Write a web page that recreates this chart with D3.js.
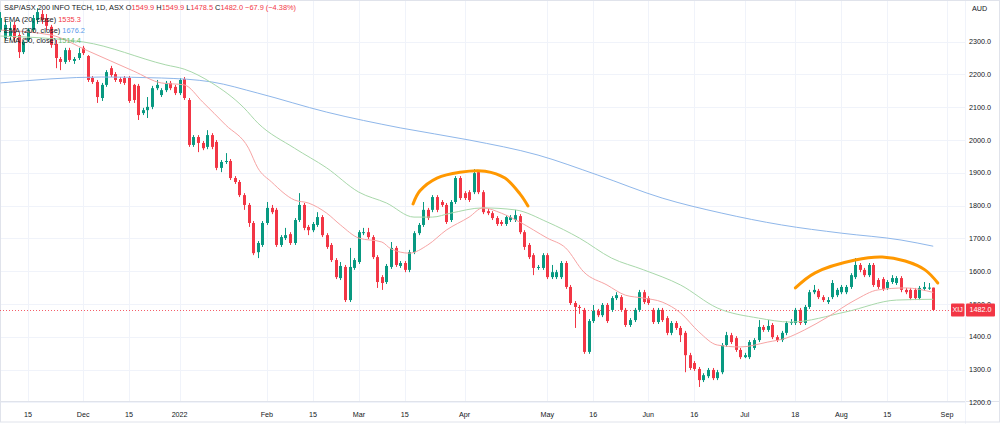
<!DOCTYPE html>
<html>
<head>
<meta charset="utf-8">
<script src="https://cdn.jsdelivr.net/npm/d3@7"></script>
<style>
  body { margin: 0; background: #fff; }
  text { font-family: "Liberation Sans", Arial, sans-serif; }
</style>
</head>
<body>
<div id="chart"></div>
<script>
// bar index of the first candle (0 = 15 Nov 2021, one per trading day)
var firstBar = -6;

var open = [2335,2311,2317,2351,2320,2268,2305,2335,2366,2384,2372,2345,2293,2247,2238,2274,2241,2250,2281,2256,
  2189,2177,2128,2168,2219,2201,2186,2189,2189,2168,2165,2082,2091,2101,2158,2137,2152,2174,2162,2143,
  2186,2122,1985,2009,1991,1979,2015,1994,1915,1933,1936,1884,1872,1832,1802,1747,1658,1680,1747,1793,
  1787,1680,1701,1713,1686,1756,1802,1735,1725,1741,1765,1710,1680,1634,1579,1613,1512,1610,1628,1716,
  1719,1704,1643,1582,1567,1613,1671,1616,1625,1604,1658,1716,1741,1787,1787,1826,1811,1802,1756,1811,
  1884,1838,1841,1841,1902,1841,1783,1777,1762,1750,1744,1756,1756,1768,1719,1680,1649,1610,1610,1649,
  1582,1582,1582,1625,1552,1503,1491,1482,1354,1448,1479,1466,1497,1482,1518,1521,1482,1436,1451,1482,
  1536,1518,1482,1445,1482,1457,1412,1442,1427,1412,1344,1320,1302,1268,1280,1299,1274,1292,1375,1405,
  1396,1360,1338,1338,1366,1390,1430,1421,1436,1399,1390,1412,1442,1442,1482,1442,1491,1536,1540,1521,
  1506,1521,1527,1536,1536,1552,1582,1619,1604,1588,1619,1573,1576,1549,1567,1564,1579,1543,1543,1543,
  1518,1546,1548,1549.9];
var high = [2390,2366,2360,2360,2326,2305,2341,2381,2402,2396,2384,2351,2305,2253,2281,2281,2253,2281,2287,2259,
  2195,2183,2174,2213,2226,2207,2192,2195,2195,2171,2171,2098,2131,2165,2183,2158,2180,2180,2168,2189,
  2192,2128,2015,2015,1997,2030,2021,2000,1939,1960,1942,1890,1878,1838,1808,1753,1692,1753,1811,1802,
  1793,1710,1732,1719,1762,1838,1808,1741,1750,1780,1771,1716,1686,1640,1628,1619,1671,1640,1725,1732,
  1732,1710,1649,1588,1622,1689,1677,1631,1631,1665,1722,1747,1811,1793,1832,1832,1817,1808,1817,1890,
  1890,1844,1847,1911,1908,1847,1790,1783,1768,1756,1771,1771,1787,1774,1725,1686,1655,1619,1655,1655,
  1619,1604,1631,1631,1558,1509,1497,1488,1454,1497,1485,1503,1503,1524,1536,1527,1488,1457,1488,1543,
  1543,1524,1488,1488,1488,1463,1448,1448,1433,1418,1351,1326,1308,1289,1305,1305,1299,1381,1415,1412,
  1402,1366,1351,1390,1396,1451,1436,1451,1442,1405,1418,1448,1454,1488,1488,1497,1543,1558,1546,1527,
  1521,1573,1549,1558,1558,1594,1640,1625,1610,1625,1625,1579,1582,1573,1588,1585,1585,1549,1549,1549,
  1555,1567,1564,1549.9];
var low = [2329,2305,2305,2299,2250,2262,2299,2329,2354,2354,2335,2281,2219,2213,2232,2238,2232,2244,2259,2177,
  2171,2113,2119,2162,2192,2177,2171,2168,2113,2113,2061,2076,2067,2094,2152,2131,2146,2152,2137,2137,
  2122,1979,1979,1963,1969,1972,1972,1908,1902,1927,1878,1866,1826,1787,1735,1649,1640,1674,1741,1774,
  1674,1674,1695,1680,1680,1750,1725,1710,1719,1735,1704,1668,1628,1576,1573,1506,1506,1604,1622,1710,
  1698,1637,1549,1543,1561,1607,1613,1610,1597,1597,1652,1710,1735,1756,1780,1780,1796,1744,1750,1805,
  1817,1817,1811,1835,1835,1774,1771,1756,1738,1738,1738,1750,1750,1713,1665,1637,1588,1604,1604,1576,
  1576,1576,1576,1546,1497,1427,1470,1348,1348,1442,1460,1460,1442,1476,1512,1476,1430,1430,1445,1476,
  1500,1497,1439,1439,1445,1405,1405,1421,1384,1292,1299,1296,1247,1262,1274,1268,1268,1286,1369,1378,
  1354,1332,1335,1332,1360,1384,1415,1415,1393,1384,1384,1405,1436,1436,1436,1436,1485,1530,1515,1506,
  1500,1515,1521,1530,1530,1546,1576,1597,1582,1582,1552,1546,1540,1543,1561,1558,1536,1530,1512,1512,
  1512,1540,1543,1478.5];
var close = [2372,2351,2341,2311,2268,2299,2335,2372,2390,2366,2348,2290,2250,2238,2274,2244,2247,2265,2265,2183,
  2177,2131,2168,2207,2198,2183,2177,2174,2119,2122,2076,2091,2101,2158,2168,2152,2174,2158,2143,2183,
  2128,1985,2009,1991,1975,2015,1979,1915,1933,1936,1884,1872,1832,1802,1747,1655,1686,1747,1793,1780,
  1680,1704,1710,1686,1756,1802,1732,1725,1744,1765,1710,1674,1634,1582,1616,1512,1613,1634,1719,1719,
  1704,1643,1567,1564,1616,1671,1619,1625,1604,1658,1716,1741,1787,1762,1826,1787,1802,1750,1811,1884,
  1823,1823,1817,1899,1841,1780,1777,1762,1744,1744,1765,1765,1771,1719,1674,1643,1610,1613,1649,1582,
  1597,1597,1625,1552,1503,1491,1488,1354,1448,1479,1466,1497,1448,1518,1527,1482,1436,1451,1482,1536,
  1506,1503,1445,1482,1451,1412,1442,1427,1405,1344,1305,1302,1268,1283,1299,1274,1292,1375,1405,1384,
  1360,1338,1344,1384,1390,1430,1421,1433,1399,1390,1412,1442,1445,1482,1442,1491,1536,1543,1521,1512,
  1512,1564,1543,1552,1552,1588,1619,1604,1588,1619,1558,1552,1546,1567,1579,1579,1543,1536,1518,1518,
  1549,1552,1549.9,1482.0];

// moving averages at a few bar indices
var ema20Idx = [-6, 5, 13, 23, 29, 34, 38, 43, 48, 50, 53, 58, 61, 65, 68, 72, 77, 79, 83, 87, 91, 96, 99, 103, 107,
  113, 117, 121, 126, 130, 134, 138, 142, 146, 150, 155, 161, 165, 169, 174, 180, 185, 191, 197];
var ema20Val = [2335, 2320, 2272, 2210, 2174, 2168, 2116, 2046, 1975, 1915, 1872, 1817, 1808, 1777, 1741, 1701, 1689,
  1668, 1655, 1680, 1725, 1765, 1793, 1777, 1750, 1701, 1671, 1597, 1558, 1527, 1518, 1506, 1473, 1415, 1375,
  1369, 1384, 1396, 1421, 1460, 1512, 1543, 1549, 1535.3];
var ema50Idx = [-6, 12, 30, 34, 40, 47, 50, 58, 65, 72, 78, 84, 88, 92, 99, 106, 113, 120, 127, 134, 142, 150, 159,
  166, 178, 189, 197];
var ema50Val = [2317, 2299, 2229, 2216, 2174, 2098, 2052, 1975, 1915, 1841, 1808, 1765, 1765, 1777, 1793, 1787, 1750,
  1701, 1640, 1604, 1558, 1488, 1457, 1445, 1476, 1512, 1514.4];
var ema200Idx = [-6, 16, 29, 40, 50, 65, 81, 96, 111, 124, 138, 151, 164, 177, 190, 197];
var ema200Val = [2174, 2192, 2189, 2177, 2143, 2085, 2037, 2000, 1954, 1893, 1823, 1777, 1741, 1716, 1695, 1676.2];

// hand drawn orange arcs (bar index, price)
var arc1Idx = [83.8, 85.3, 89.0, 94.0, 99.5, 103.8, 107.1, 108.8];
var arc1Val = [1805, 1845, 1884, 1902, 1905, 1884, 1835, 1799];
var arc2Idx = [167.0, 171.3, 180.0, 185.9, 190.9, 195.2, 198.0];
var arc2Val = [1549, 1595, 1634, 1643, 1631, 1604, 1564];

var tickIdx = [0, 12, 22, 33, 52, 62, 72, 82, 95, 113, 123, 135, 145, 156, 167, 177, 187, 200];
var tickLabels = ["15", "Dec", "15", "2022", "Feb", "15", "Mar", "15", "Apr", "May", "16", "Jun", "16", "Jul", "18", "Aug", "15", "Sep"];
var priceTicks = d3.range(1200, 2301, 100);

var lastClose = 1482.0;
var legendTitle = "S&P/ASX 200 INFO TECH, 1D, ASX";

var W = 1000, H = 424, plotRight = 965, plotBottom = 401;
var upColor = "#089981", downColor = "#F23645";

var svg = d3.select("#chart").append("svg")
    .attr("width", W)
    .attr("height", H)
    .style("display", "block");

svg.append("rect").attr("width", W).attr("height", H).attr("fill", "#fff");

var x = d3.scaleLinear().domain([-6.094, 203.917]).range([0, plotRight]);
var y = d3.scaleLinear().domain([1200, 2300]).range([402.4, 41.6]);

svg.append("clipPath").attr("id", "clip")
  .append("rect").attr("width", plotRight).attr("height", plotBottom);

// grid
var grid = svg.append("g");
grid.selectAll(".hg").data(priceTicks).enter().append("line")
    .attr("x1", 0).attr("x2", plotRight)
    .attr("y1", function (d) { return Math.round(y(d)) + 0.5; })
    .attr("y2", function (d) { return Math.round(y(d)) + 0.5; })
    .attr("stroke", "#f0f3fa");
grid.selectAll(".vg").data(tickIdx).enter().append("line")
    .attr("x1", function (d) { return Math.round(x(d)) + 0.5; })
    .attr("x2", function (d) { return Math.round(x(d)) + 0.5; })
    .attr("y1", 0).attr("y2", plotBottom)
    .attr("stroke", "#f0f3fa");

// frame
svg.append("line").attr("x1", 0).attr("x2", W).attr("y1", plotBottom + 0.5).attr("y2", plotBottom + 0.5).attr("stroke", "#e0e3eb");
svg.append("line").attr("x1", plotRight + 0.5).attr("x2", plotRight + 0.5).attr("y1", 0).attr("y2", H).attr("stroke", "#f0f3fa");
svg.append("rect").attr("x", 0.5).attr("y", 0.5).attr("width", W - 1).attr("height", H - 2.5)
    .attr("fill", "none").attr("stroke", "#e0e3eb");

var plot = svg.append("g").attr("clip-path", "url(#clip)");

// last price line
plot.append("line")
    .attr("x1", 0).attr("x2", plotRight)
    .attr("y1", Math.round(y(lastClose)) + 0.5).attr("y2", Math.round(y(lastClose)) + 0.5)
    .attr("stroke", downColor).attr("stroke-width", 1).attr("stroke-dasharray", "1,2").attr("opacity", 0.8);

// candles
var bars = d3.range(open.length).map(function (k) {
    return { i: firstBar + k, o: open[k], h: high[k], l: low[k], c: close[k] };
});

var candle = plot.selectAll(".candle").data(bars).enter().append("g");
candle.append("line")
    .attr("x1", function (d) { return Math.round(x(d.i)) + 0.5; })
    .attr("x2", function (d) { return Math.round(x(d.i)) + 0.5; })
    .attr("y1", function (d) { return y(d.h); })
    .attr("y2", function (d) { return y(d.l); })
    .attr("stroke", function (d) { return d.c >= d.o ? upColor : downColor; });
candle.append("rect")
    .attr("x", function (d) { return Math.round(x(d.i)) - 1; })
    .attr("width", 3)
    .attr("y", function (d) { return y(Math.max(d.o, d.c)); })
    .attr("height", function (d) { return Math.max(1, Math.abs(y(d.o) - y(d.c))); })
    .attr("fill", function (d) { return d.c >= d.o ? upColor : downColor; });

// EMA lines
function emaLine(idx, vals, color) {
    var pts = idx.map(function (d, k) { return [d, vals[k]]; });
    plot.append("path")
        .datum(pts)
        .attr("fill", "none")
        .attr("stroke", color)
        .attr("stroke-width", 1)
        .attr("d", d3.line()
            .x(function (d) { return x(d[0]); })
            .y(function (d) { return y(d[1]); })
            .curve(d3.curveMonotoneX));
}
emaLine(ema200Idx, ema200Val, "#8fb7ea");
emaLine(ema50Idx, ema50Val, "#a8d8aa");
emaLine(ema20Idx, ema20Val, "#f7a4a4");

// orange annotations
function arc(idx, vals) {
    var pts = idx.map(function (d, k) { return [d, vals[k]]; });
    plot.append("path")
        .datum(pts)
        .attr("fill", "none")
        .attr("stroke", "#FF9800")
        .attr("stroke-width", 3)
        .attr("stroke-linecap", "round")
        .attr("d", d3.line()
            .x(function (d) { return x(d[0]); })
            .y(function (d) { return y(d[1]); })
            .curve(d3.curveCatmullRom));
}
arc(arc1Idx, arc1Val);
arc(arc2Idx, arc2Val);

// right price scale
var axisCol = "#131722";
var lastY = y(lastClose);
svg.selectAll(".pl").data(priceTicks).enter().append("text")
    .attr("x", 969)
    .attr("y", function (d) { return y(d) + 2.5; })
    .attr("font-size", 7.2)
    .attr("fill", axisCol)
    .text(function (d) { return d3.format(".1f")(d); });
svg.append("text").attr("x", 972).attr("y", 11).attr("font-size", 7.2).attr("fill", axisCol).text("AUD");

// last price labels
svg.append("rect").attr("x", 951).attr("y", lastY - 6.5).attr("width", 13.5).attr("height", 13).attr("rx", 1).attr("fill", downColor);
svg.append("text").attr("x", 957.7).attr("y", lastY + 2.5).attr("text-anchor", "middle")
    .attr("font-size", 7.2).attr("fill", "#fff").text("XIJ");
svg.append("rect").attr("x", 966).attr("y", lastY - 6.5).attr("width", 29).attr("height", 13).attr("rx", 1).attr("fill", downColor);
svg.append("text").attr("x", 980.5).attr("y", lastY + 2.5).attr("text-anchor", "middle")
    .attr("font-size", 7.2).attr("fill", "#fff").text(d3.format(".1f")(lastClose));

// time scale
svg.selectAll(".tl").data(tickIdx).enter().append("text")
    .attr("x", function (d) { return x(d); })
    .attr("y", 416.5)
    .attr("text-anchor", "middle")
    .attr("font-size", 7.2)
    .attr("fill", axisCol)
    .text(function (d, k) { return tickLabels[k]; });

// legend
var last = bars[bars.length - 1];
var prev = bars[bars.length - 2];
var chg = last.c - prev.c;
var legend = svg.append("g").attr("font-size", 7.4);
var t1 = legend.append("text").attr("x", 4).attr("y", 10).attr("fill", axisCol);
t1.append("tspan").text(legendTitle + "  ");
[["O", last.o], ["H", last.h], ["L", last.l], ["C", last.c]].forEach(function (p) {
    t1.append("tspan").attr("fill", axisCol).text(" " + p[0]);
    t1.append("tspan").attr("fill", downColor).text(d3.format(".1f")(p[1]));
});
t1.append("tspan").attr("fill", downColor)
    .text("  " + d3.format(".1f")(chg).replace("-", "\u2212") + " (" + d3.format(".2f")(chg / prev.c * 100).replace("-", "\u2212") + "%)");

var emaLegend = [
    ["EMA (20, close)", ema20Val[ema20Val.length - 1], downColor, 21.5],
    ["EMA (200, close)", ema200Val[ema200Val.length - 1], "#5b9bea", 32.5],
    ["EMA (50, close)", ema50Val[ema50Val.length - 1], "#66bb6a", 43]
];
emaLegend.forEach(function (e) {
    var t = legend.append("text").attr("x", 4).attr("y", e[3]).attr("fill", axisCol);
    t.append("tspan").text(e[0] + "  ");
    t.append("tspan").attr("fill", e[2]).text(d3.format(".1f")(e[1]));
});
</script>
</body>
</html>
